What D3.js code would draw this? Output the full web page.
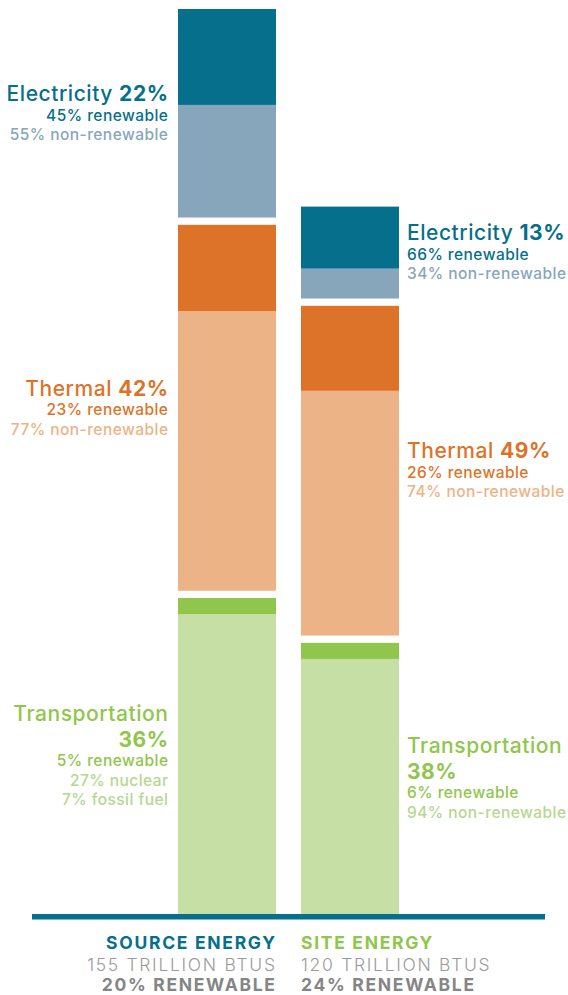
<!DOCTYPE html>
<html>
<head>
<meta charset="utf-8">
<script src="https://cdn.jsdelivr.net/npm/d3@7"></script>
<style>
  html, body { margin: 0; padding: 0; background: #ffffff; }
  svg { display: block; font-family: Inter, "Open Sans", sans-serif; }
</style>
</head>
<body>
<svg id="chart" width="568" height="995"></svg>
<script>
// ---- data (trillion BTUs) ----
const bars = ["SOURCE ENERGY", "SITE ENERGY"];
const barTotals = ["155 TRILLION BTUS", "120 TRILLION BTUS"];
const barRenewable = ["20% RENEWABLE", "24% RENEWABLE"];
const sectors = ["Transportation", "Thermal", "Electricity"]; // bottom to top
const sourceRenewable    = [2.8, 15.0, 16.7];
const sourceNonRenewable = [52.2, 48.7, 19.6];
const siteRenewable      = [2.8, 14.8, 10.8];
const siteNonRenewable   = [44.4, 42.6, 5.2];
const sourceShareLabels = ["36%", "42%", "22%"];
const siteShareLabels   = ["38%", "49%", "13%"];
const sourceSubLabels = [
  ["5% renewable", "27% nuclear", "7% fossil fuel"],
  ["23% renewable", "77% non-renewable"],
  ["45% renewable", "55% non-renewable"]
];
const siteSubLabels = [
  ["6% renewable", "94% non-renewable"],
  ["26% renewable", "74% non-renewable"],
  ["66% renewable", "34% non-renewable"]
];

// ---- styles ----
const darkColors  = ["#8fc64b", "#dc7329", "#066f8b"];
const lightColors = ["#c6dfa4", "#ecb386", "#87a6bb"];
const subColors   = ["#b6d78f", "#ecb386", "#87a6bb"];
const baseColor = "#066f8b";

const svg = d3.select("#chart");
const baseY = 914;
const gap = 7.3;

const x = d3.scaleBand().domain(bars).range([178, 399]).paddingInner(25 / 123).paddingOuter(0);
const y = d3.scaleLinear().domain([0, 155]).range([baseY, baseY - 890.4]);

const barData = [
  { name: bars[0], ren: sourceRenewable, non: sourceNonRenewable, share: sourceShareLabels, subs: sourceSubLabels, side: "left" },
  { name: bars[1], ren: siteRenewable, non: siteNonRenewable, share: siteShareLabels, subs: siteSubLabels, side: "right" }
];

const big = 21, small = 15.5, bigLS = 0.55, smallLS = 0.45;

barData.forEach(b => {
  let cum = 0;
  const x0 = x(b.name), bw = x.bandwidth();
  sectors.forEach((s, i) => {
    const off = i * gap;
    const yBottom = y(cum) - off;
    const nonTop = y(cum + b.non[i]) - off;
    const renTop = y(cum + b.non[i] + b.ren[i]) - off;
    svg.append("rect").attr("x", x0).attr("width", bw)
      .attr("y", nonTop).attr("height", yBottom - nonTop).attr("fill", lightColors[i]);
    svg.append("rect").attr("x", x0).attr("width", bw)
      .attr("y", renTop).attr("height", nonTop - renTop).attr("fill", darkColors[i]);
    const mid = (yBottom + renTop) / 2;
    cum += b.non[i] + b.ren[i];

    // label lines
    const lines = [];
    if (s === "Transportation") {
      lines.push({ parts: [{ t: s, w: 500 }], size: big, ls: bigLS, color: darkColors[i] });
      lines.push({ parts: [{ t: b.share[i], w: 700 }], size: big, ls: bigLS, color: darkColors[i], adv: 25.5 });
    } else {
      lines.push({ parts: [{ t: s + " ", w: 500 }, { t: b.share[i], w: 700 }], size: big, ls: bigLS, color: darkColors[i] });
    }
    b.subs[i].forEach((t, k) => {
      lines.push({ parts: [{ t: t, w: 500 }], size: small, ls: smallLS, color: k === 0 ? darkColors[i] : subColors[i], adv: 19.5 });
    });
    let bl = 0; const baselines = [];
    lines.forEach((ln, k) => { if (k > 0) bl += ln.adv; baselines.push(bl); });
    const top = -14.5, bottom = bl;
    const shift = mid - (top + bottom) / 2;
    const anchor = b.side === "left" ? "end" : "start";
    lines.forEach((ln, k) => {
      const tx = b.side === "left" ? x0 - 10 + ln.ls : x0 + bw + 8;
      const t = svg.append("text").attr("x", tx).attr("y", baselines[k] + shift)
        .attr("text-anchor", anchor).attr("font-size", ln.size)
        .attr("letter-spacing", ln.ls).attr("fill", ln.color);
      ln.parts.forEach(p => t.append("tspan").attr("font-weight", p.w).text(p.t));
    });
  });
});

// baseline
svg.append("rect").attr("x", 32).attr("width", 513).attr("y", baseY).attr("height", 5.5).attr("fill", baseColor);

// bottom labels
const bottomColors = [baseColor, "#8fc64b"];
const bLS = 1.7;
bars.forEach((bn, i) => {
  const left = i === 0;
  const tx = left ? x(bn) + x.bandwidth() - 1 + bLS : x(bn);
  const anchor = left ? "end" : "start";
  svg.append("text").attr("x", tx).attr("y", 949).attr("text-anchor", anchor).attr("letter-spacing", bLS)
    .attr("font-size", 17.5).attr("font-weight", 700).attr("fill", bottomColors[i]).text(bn);
  svg.append("text").attr("x", tx).attr("y", 971).attr("text-anchor", anchor).attr("letter-spacing", bLS)
    .attr("font-size", 17.5).attr("font-weight", 300).attr("fill", "#9b9b9b").text(barTotals[i]);
  svg.append("text").attr("x", tx).attr("y", 990.5).attr("text-anchor", anchor).attr("letter-spacing", bLS)
    .attr("font-size", 17.5).attr("font-weight", 700).attr("fill", "#858585").text(barRenewable[i]);
});
</script>
</body>
</html>
